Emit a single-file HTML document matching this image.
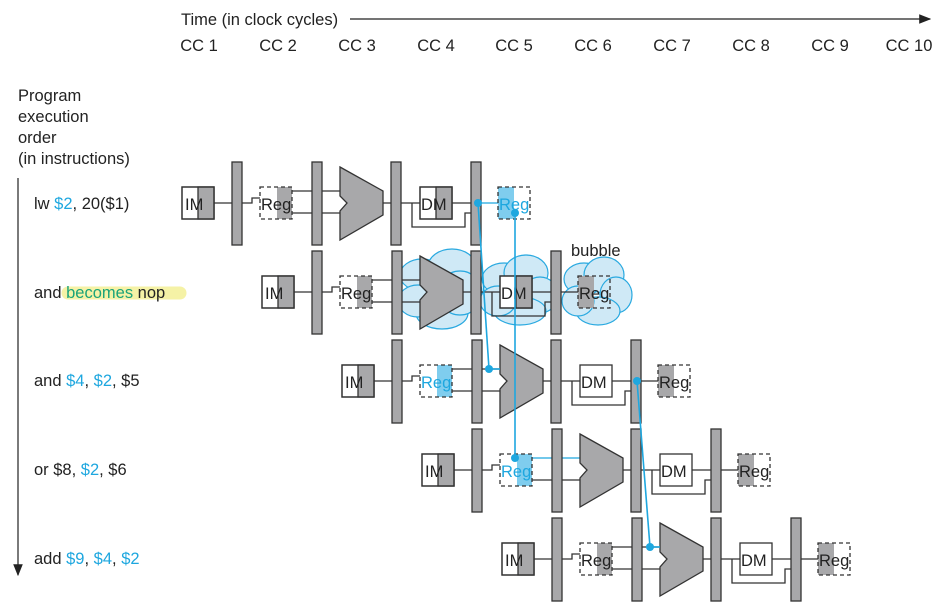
<!DOCTYPE html>
<html><head><meta charset="utf-8"><style>
body{margin:0;background:#fff}
svg text{font-family:"Liberation Sans",sans-serif;font-size:16.5px;fill:#222}
</style></head><body>
<svg width="952" height="605" viewBox="0 0 952 605" xmlns="http://www.w3.org/2000/svg">
<defs>
<marker id="ah" markerWidth="10" markerHeight="8" refX="9" refY="4" orient="auto"><path d="M0,0 L10,4 L0,8 z" fill="#222"/></marker>
</defs>
<text x="181" y="25">Time (in clock cycles)</text>
<line x1="350" y1="19" x2="930" y2="19" stroke="#222" stroke-width="1.2" marker-end="url(#ah)"/>
<g text-anchor="middle">
<text x="199" y="51">CC 1</text><text x="278" y="51">CC 2</text><text x="357" y="51">CC 3</text><text x="436" y="51">CC 4</text><text x="514" y="51">CC 5</text><text x="593" y="51">CC 6</text><text x="672" y="51">CC 7</text><text x="751" y="51">CC 8</text><text x="830" y="51">CC 9</text><text x="909" y="51">CC 10</text>
</g>
<text x="18" y="101">Program</text><text x="18" y="122">execution</text><text x="18" y="143">order</text><text x="18" y="164">(in instructions)</text>
<line x1="18" y1="178" x2="18" y2="575" stroke="#222" stroke-width="1.2" marker-end="url(#ah)"/>
<text x="34" y="209">lw <tspan style="fill:#1ea7df">$2</tspan>, 20($1)</text>
<path d="M68 293 H180" stroke="#f5f2a6" stroke-width="13" stroke-linecap="round"/>
<text x="34" y="298">and <tspan style="fill:#1ba37a">becomes</tspan> nop</text>
<text x="34" y="386">and <tspan style="fill:#1ea7df">$4</tspan>, <tspan style="fill:#1ea7df">$2</tspan>, $5</text>
<text x="34" y="475">or $8, <tspan style="fill:#1ea7df">$2</tspan>, $6</text>
<text x="34" y="564">add <tspan style="fill:#1ea7df">$9</tspan>, <tspan style="fill:#1ea7df">$4</tspan>, <tspan style="fill:#1ea7df">$2</tspan></text>
<text x="571" y="256">bubble</text>

<g fill="#cfe9f6" stroke="#29a9e0" stroke-width="1.2">
<g transform="translate(80,89)">
<ellipse cx="342" cy="186" rx="22" ry="16"/><ellipse cx="372" cy="178" rx="24" ry="18"/><ellipse cx="362" cy="224" rx="26" ry="16"/><ellipse cx="338" cy="212" rx="20" ry="16"/><ellipse cx="380" cy="204" rx="22" ry="22"/>
</g>
<g transform="translate(80,89)">
<ellipse cx="424" cy="190" rx="22" ry="16"/><ellipse cx="446" cy="184" rx="22" ry="18"/><ellipse cx="460" cy="206" rx="18" ry="18"/><ellipse cx="440" cy="222" rx="26" ry="14"/><ellipse cx="418" cy="212" rx="18" ry="15"/>
</g>
<g transform="translate(80,89)">
<ellipse cx="504" cy="190" rx="20" ry="16"/><ellipse cx="524" cy="186" rx="20" ry="18"/><ellipse cx="536" cy="206" rx="16" ry="18"/><ellipse cx="518" cy="222" rx="22" ry="14"/><ellipse cx="498" cy="212" rx="16" ry="15"/>
</g>
</g>

<g stroke="#333" stroke-width="1.3">
<g transform="translate(0,0)">
<rect x="182" y="187" width="32" height="32" fill="#fff"/><rect x="198" y="187" width="16" height="32" fill="#a8a8aa"/><rect x="182" y="187" width="32" height="32" fill="none"/>
<text x="185" y="210" stroke="none">IM</text>
<path d="M214 203H232M242 203H252V198H260M292 191H312M292 213H312M322 191H340M322 213H340M383 203H391M401 203H420M412 203V227H465V213H471M452 203H471" fill="none"/>
<rect x="232" y="162" width="10" height="83" fill="#a8a8aa"/><rect x="312" y="162" width="10" height="83" fill="#a8a8aa"/><rect x="391" y="162" width="10" height="83" fill="#a8a8aa"/><rect x="471" y="162" width="10" height="83" fill="#a8a8aa"/>
<rect x="277" y="187" width="15" height="32" fill="#a8a8aa" stroke="none"/><rect x="260" y="187" width="32" height="32" fill="none" stroke-dasharray="4,3"/>
<text x="261" y="210" stroke="none">Reg</text>
<polygon points="340,167 383,191 383,215 340,240 340,211 347,203 340,196" fill="#a8a8aa"/>
<rect x="420" y="187" width="32" height="32" fill="#fff"/><rect x="436" y="187" width="16" height="32" fill="#a8a8aa"/><rect x="420" y="187" width="32" height="32" fill="none"/>
<text x="421" y="210" stroke="none">DM</text>
<path d="M481 203H498" stroke="#1ea7df"/>
<rect x="498" y="187" width="16" height="32" fill="#7fcdee" stroke="none"/><rect x="498" y="187" width="32" height="32" fill="none" stroke-dasharray="4,3"/>
<text x="499" y="210" stroke="none" style="fill:#1ea7df">Reg</text>
</g>
<g transform="translate(80,89)">
<rect x="182" y="187" width="32" height="32" fill="#fff"/><rect x="198" y="187" width="16" height="32" fill="#a8a8aa"/><rect x="182" y="187" width="32" height="32" fill="none"/>
<text x="185" y="210" stroke="none">IM</text>
<path d="M214 203H232M242 203H252V198H260M292 191H312M292 213H312M322 191H340M322 213H340M383 203H391M401 203H420M412 203V227H465V213H471M452 203H471M481 203H498" fill="none"/>
<rect x="232" y="162" width="10" height="83" fill="#a8a8aa"/><rect x="312" y="162" width="10" height="83" fill="#a8a8aa"/><rect x="391" y="162" width="10" height="83" fill="#a8a8aa"/><rect x="471" y="162" width="10" height="83" fill="#a8a8aa"/>
<rect x="277" y="187" width="15" height="32" fill="#a8a8aa" stroke="none"/><rect x="260" y="187" width="32" height="32" fill="none" stroke-dasharray="4,3"/>
<text x="261" y="210" stroke="none">Reg</text>
<polygon points="340,167 383,191 383,215 340,240 340,211 347,203 340,196" fill="#a8a8aa"/>
<rect x="420" y="187" width="32" height="32" fill="#fff"/><rect x="436" y="187" width="16" height="32" fill="#a8a8aa"/><rect x="420" y="187" width="32" height="32" fill="none"/>
<text x="421" y="210" stroke="none">DM</text>
<rect x="498" y="187" width="16" height="32" fill="#a8a8aa" stroke="none"/><rect x="498" y="187" width="32" height="32" fill="none" stroke-dasharray="4,3"/>
<text x="499" y="210" stroke="none">Reg</text>
</g>
<g transform="translate(160,178)">
<rect x="182" y="187" width="32" height="32" fill="#fff"/><rect x="198" y="187" width="16" height="32" fill="#a8a8aa"/><rect x="182" y="187" width="32" height="32" fill="none"/>
<text x="185" y="210" stroke="none">IM</text>
<path d="M214 203H232M242 203H252V198H260M292 191H312M292 213H312M322 191H340M322 213H340M383 203H391M401 203H420M412 203V227H465V213H471M452 203H471M481 203H498" fill="none"/>
<rect x="232" y="162" width="10" height="83" fill="#a8a8aa"/><rect x="312" y="162" width="10" height="83" fill="#a8a8aa"/><rect x="391" y="162" width="10" height="83" fill="#a8a8aa"/><rect x="471" y="162" width="10" height="83" fill="#a8a8aa"/>
<rect x="277" y="187" width="15" height="32" fill="#7fcdee" stroke="none"/><rect x="260" y="187" width="32" height="32" fill="none" stroke-dasharray="4,3"/>
<text x="261" y="210" stroke="none" style="fill:#1ea7df">Reg</text>
<polygon points="340,167 383,191 383,215 340,240 340,211 347,203 340,196" fill="#a8a8aa"/>
<rect x="420" y="187" width="32" height="32" fill="#fff"/>
<text x="421" y="210" stroke="none">DM</text>
<rect x="498" y="187" width="16" height="32" fill="#a8a8aa" stroke="none"/><rect x="498" y="187" width="32" height="32" fill="none" stroke-dasharray="4,3"/>
<text x="499" y="210" stroke="none">Reg</text>
</g>
<g transform="translate(240,267)">
<rect x="182" y="187" width="32" height="32" fill="#fff"/><rect x="198" y="187" width="16" height="32" fill="#a8a8aa"/><rect x="182" y="187" width="32" height="32" fill="none"/>
<text x="185" y="210" stroke="none">IM</text>
<path d="M214 203H232M242 203H252V198H260M292 213H312M322 213H340M383 203H391M401 203H420M412 203V227H465V213H471M452 203H471M481 203H498" fill="none"/>
<path d="M292 191H340" stroke="#1ea7df"/>
<rect x="232" y="162" width="10" height="83" fill="#a8a8aa"/><rect x="312" y="162" width="10" height="83" fill="#a8a8aa"/><rect x="391" y="162" width="10" height="83" fill="#a8a8aa"/><rect x="471" y="162" width="10" height="83" fill="#a8a8aa"/>
<rect x="277" y="187" width="15" height="32" fill="#7fcdee" stroke="none"/><rect x="260" y="187" width="32" height="32" fill="none" stroke-dasharray="4,3"/>
<text x="261" y="210" stroke="none" style="fill:#1ea7df">Reg</text>
<polygon points="340,167 383,191 383,215 340,240 340,211 347,203 340,196" fill="#a8a8aa"/>
<rect x="420" y="187" width="32" height="32" fill="#fff"/>
<text x="421" y="210" stroke="none">DM</text>
<rect x="498" y="187" width="16" height="32" fill="#a8a8aa" stroke="none"/><rect x="498" y="187" width="32" height="32" fill="none" stroke-dasharray="4,3"/>
<text x="499" y="210" stroke="none">Reg</text>
</g>
<g transform="translate(320,356)">
<rect x="182" y="187" width="32" height="32" fill="#fff"/><rect x="198" y="187" width="16" height="32" fill="#a8a8aa"/><rect x="182" y="187" width="32" height="32" fill="none"/>
<text x="185" y="210" stroke="none">IM</text>
<path d="M214 203H232M242 203H252V198H260M292 191H312M292 213H312M322 191H340M322 213H340M383 203H391M401 203H420M412 203V227H465V213H471M452 203H471M481 203H498" fill="none"/>
<rect x="232" y="162" width="10" height="83" fill="#a8a8aa"/><rect x="312" y="162" width="10" height="83" fill="#a8a8aa"/><rect x="391" y="162" width="10" height="83" fill="#a8a8aa"/><rect x="471" y="162" width="10" height="83" fill="#a8a8aa"/>
<rect x="277" y="187" width="15" height="32" fill="#a8a8aa" stroke="none"/><rect x="260" y="187" width="32" height="32" fill="none" stroke-dasharray="4,3"/>
<text x="261" y="210" stroke="none">Reg</text>
<polygon points="340,167 383,191 383,215 340,240 340,211 347,203 340,196" fill="#a8a8aa"/>
<rect x="420" y="187" width="32" height="32" fill="#fff"/>
<text x="421" y="210" stroke="none">DM</text>
<rect x="498" y="187" width="16" height="32" fill="#a8a8aa" stroke="none"/><rect x="498" y="187" width="32" height="32" fill="none" stroke-dasharray="4,3"/>
<text x="499" y="210" stroke="none">Reg</text>
</g>
</g>

<g stroke="#1ea7df" stroke-width="1.6" fill="#1ea7df">
<line x1="478" y1="203" x2="489" y2="369"/>
<line x1="489" y1="369" x2="500" y2="369"/>
<line x1="515" y1="213" x2="515" y2="458"/>
<line x1="637" y1="381" x2="650" y2="547"/>
<line x1="650" y1="547" x2="660" y2="547"/>
<circle cx="478" cy="203" r="4" stroke="none"/>
<circle cx="515" cy="213" r="4" stroke="none"/>
<circle cx="489" cy="369" r="4" stroke="none"/>
<circle cx="515" cy="458" r="4" stroke="none"/>
<circle cx="637" cy="381" r="4" stroke="none"/>
<circle cx="650" cy="547" r="4" stroke="none"/>
</g>
</svg>
</body></html>
